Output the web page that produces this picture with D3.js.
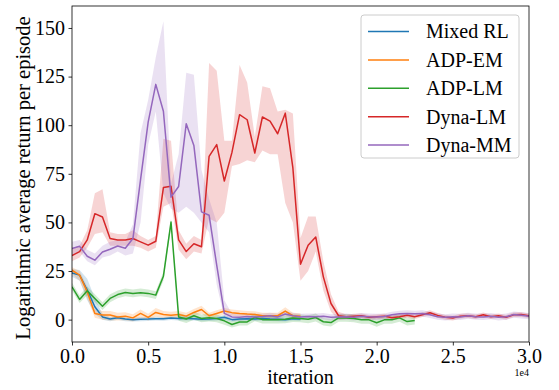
<!DOCTYPE html>
<html>
<head>
<meta charset="utf-8">
<script src="https://cdn.jsdelivr.net/npm/d3@7"></script>
<style>
    body { margin: 0; background: white; }
    text { font-family: "Liberation Serif", "Times New Roman", serif; }
</style>
</head>
<body>
<svg id="plot"></svg>
<script>
"use strict";

// iterations, one sample every 500
const iterations = [0, 500, 1000, 1500, 2000, 2500, 3000, 3500, 4000, 4500,
    5000, 5500, 6000, 6500, 7000, 7500, 8000, 8500, 9000, 9500,
    10000, 10500, 11000, 11500, 12000, 12500, 13000, 13500, 14000, 14500,
    15000, 15500, 16000, 16500, 17000, 17500, 18000, 18500, 19000, 19500,
    20000, 20500, 21000, 21500, 22000, 22500, 23000, 23500, 24000, 24500,
    25000, 25500, 26000, 26500, 27000, 27500, 28000, 28500, 29000, 29500, 30000];

const series_names = ["Mixed RL", "ADP-EM", "ADP-LM", "Dyna-LM", "Dyna-MM"];
const series_colors = ["#1f77b4", "#ff7f0e", "#2ca02c", "#d62728", "#9467bd"];

const mixed_rl_mean = [24, 22.9, 15.2, 6.6, 1.4, 0.3, 1, 0.3, 0, 0.2, 0.3, 0.5, 0.4, 0.8, 0.6, 0.6, 0.5, 0.2, 0.3, 0.6, 1.2, 0, 0.3, 0.5, 0.3, 0.6, 0.3, 0.2, 0, 0.5, 0.3];
const mixed_rl_low = [22, 20, 10, 3, 0, -0.8, 0, -0.8, -1, -0.8, -0.7, -0.5, -0.6, -0.2, -0.4, -0.4, -0.5, -0.8, -0.7, -0.4, 0, -1, -0.7, -0.5, -0.7, -0.4, -0.7, -0.8, -1, -0.5, -0.7];
const mixed_rl_high = [26, 25.5, 21, 11, 3, 1.4, 2, 1.4, 1, 1.2, 1.3, 1.5, 1.4, 1.8, 1.6, 1.6, 1.5, 1.2, 1.3, 1.6, 2.4, 1, 1.3, 1.5, 1.3, 1.6, 1.3, 1.2, 1, 1.5, 1.3];

const adp_em_mean = [25.4, 22.9, 14.3, 3.2, 2.4, 2.4, 1.4, 1.8, 0.9, 3.2, 1.2, 3.7, 2.6, 2.2, 2.6, 1.8, 3.7, 5.2, 2, 3.2, 4.4, 3.6, 3.2, 2.9, 2.7, 2, 2, 2, 4.4, 2, 1.8];
const adp_em_low = [23.5, 20, 11, 1, 0, -0.5, -0.5, -0.3, -1, 1, -0.5, 1.5, 0.8, 0.4, 0.8, 0, 1.9, 3, 0.4, 1.6, 2.8, 2, 1.6, 1.3, 1.1, 0.4, 0.4, 0.4, 2.4, 0.4, 0.3];
const adp_em_high = [27, 25, 17, 5.5, 4.5, 4.5, 3.5, 3.8, 2.8, 5.2, 3, 6, 4.4, 4, 4.4, 3.6, 5.5, 7.2, 3.6, 4.8, 6, 5.2, 4.8, 4.5, 4.3, 3.6, 3.6, 3.6, 6.4, 3.6, 3.3];

const adp_lm_mean = [16.9, 10.4, 14.8, 10.9, 6.9, 10.9, 12.9, 14, 13.5, 13.8, 13.5, 12.6, 22.3, 50.2, 1.4, 0.3, 2, 0.6, 1, 0.6, -0.6, -2.5, -1.2, -1.2, 1.2, 0, 0, 0, 0.2, 0.8, 0.6, 0.2, 1.1, -1.1, -1.5, 0.9, 0.9, 0.6, -0.1, -0.1, -1.6, -0.1, -0.1, 0.9, -1, -0.5];
const adp_lm_low = [15, 8.5, 12.5, 9, 5, 9, 11, 12, 11.5, 12, 11.5, 10.6, 20, 48, -0.6, -1.7, 0, -1.4, -1, -1.4, -2.6, -4, -3, -3, -0.8, -2, -2, -2, -1.8, -1.2, -1.4, -1.8, -0.9, -3, -3.5, -1.1, -1.1, -1.4, -2.1, -2.1, -3.6, -2.1, -2.1, -1.1, -3, -2.5];
const adp_lm_high = [19, 12.5, 17, 13, 9, 13, 15, 16, 15.5, 16, 15.5, 14.6, 24.5, 52, 3.4, 2.3, 4, 2.6, 3, 2.6, 1.4, -0.7, 0.8, 0.8, 3.2, 2, 2, 2, 2.2, 2.8, 2.6, 2.2, 3.1, 0.9, 0.5, 2.9, 2.9, 2.6, 1.9, 1.9, 0.4, 1.9, 1.9, 2.9, 1, 1.5];

const dyna_lm_mean = [33, 35, 41, 54.5, 52.8, 41.7, 41, 41, 41.7, 40, 38.3, 40.3, 67.9, 68.6, 41, 35, 39, 37.5, 84, 90, 71.3, 86, 105.4, 102.8, 85.7, 104.2, 102.1, 95.6, 106.2, 78, 28.5, 38.3, 42.5, 22, 8.3, 2, 1.5, 1.8, 2, 1.2, 1.5, 1.8, 1, 1.5, 2.2, 1.5, 2.5, 3.5, 2.2, 1.2, 0.8, 1.8, 2, 1.5, 2.5, 1.5, 2, 1.2, 2.5, 2.6, 2];
const dyna_lm_low = [30, 32, 37, 44, 45, 38, 38, 38, 38, 37, 35, 37, 58, 60, 36, 31, 35, 34, 52, 50, 55, 79, 80, 82, 81, 87, 85, 85, 60, 50, 20, 25, 35, 15, 4, 0, 0.3, 0.6, 0.8, 0, 0.3, 0.6, -0.2, 0.3, 1, 0.3, 1.3, 2.2, 1, 0, -0.4, 0.6, 0.8, 0.3, 1.3, 0.3, 0.8, 0, 1.3, 1.4, 0.8];
const dyna_lm_high = [37, 38, 46, 65, 67, 45, 44, 44, 46, 43, 41, 43, 93, 92, 46, 39, 43, 41, 132, 128, 92, 92, 131, 122, 94, 120, 119, 107, 108, 106, 42, 53, 53, 30, 13, 4, 2.7, 3, 3.2, 2.4, 2.7, 3, 2.2, 2.7, 3.4, 2.7, 3.7, 4.8, 3.4, 2.4, 2, 3, 3.2, 2.7, 3.7, 2.7, 3.2, 2.4, 3.7, 3.8, 3.2];

const dyna_mm_mean = [36.6, 37.7, 32.6, 30.6, 34.8, 36.2, 37.9, 36.7, 41.7, 72, 101.6, 121, 107.2, 63, 68.5, 100.8, 89.6, 55.4, 53.7, 28, 3.2, 1.4, 1.2, 1.6, 1.4, 1.6, 2, 1.4, 2.9, 2, 1.4, 1.6, 1.5, 1.8, 1.2, 1.4, 1.5, 1.2, 1.8, 1.5, 1.4, 1.6, 2.5, 3, 3.2, 3, 3.2, 2.5, 1.5, 1.2, 1.5, 1.4, 2, 1.5, 1.4, 1.8, 1.2, 1.5, 2.6, 2.2, 1.8];
const dyna_mm_low = [33, 35, 30, 28, 32, 33, 35, 33, 34, 50, 90, 107, 65, 57, 55, 58, 55, 50, 45, 18, 1, -0.2, -0.4, 0, -0.2, 0, 0.4, -0.2, 1.3, 0.4, -0.2, 0, -0.1, 0.2, -0.4, -0.2, -0.1, -0.4, 0.2, -0.1, -0.2, 0, 0.9, 1.4, 1.6, 1.4, 1.6, 0.9, -0.1, -0.4, -0.1, -0.2, 0.4, -0.1, -0.2, 0.2, -0.4, -0.1, 1, 0.6, 0.2];
const dyna_mm_high = [40, 41, 36, 34, 38, 40, 41, 40, 49, 96, 113, 135, 153.5, 70, 85, 127, 126, 77, 62, 50, 10, 3, 2.8, 3.2, 3, 3.2, 3.6, 3, 4.5, 3.6, 3, 3.2, 3.1, 3.4, 2.8, 3, 3.1, 2.8, 3.4, 3.1, 3, 3.2, 4.1, 4.6, 4.8, 4.6, 4.8, 4.1, 3.1, 2.8, 3.1, 3, 3.6, 3.1, 3, 3.4, 2.8, 3.1, 4.2, 3.8, 3.4];

const x_ticks = [0, 5000, 10000, 15000, 20000, 25000, 30000];
const y_ticks = [0, 25, 50, 75, 100, 125, 150];

const means = [mixed_rl_mean, adp_em_mean, adp_lm_mean, dyna_lm_mean, dyna_mm_mean];
const lows = [mixed_rl_low, adp_em_low, adp_lm_low, dyna_lm_low, dyna_mm_low];
const highs = [mixed_rl_high, adp_em_high, adp_lm_high, dyna_lm_high, dyna_mm_high];

const width = 559;
const height = 390;
const margins = {top: 6, right: 30, bottom: 48, left: 72};
const plot_width = width - margins.left - margins.right;
const plot_height = height - margins.top - margins.bottom;
const FONT = 20;

const x_scale = d3.scaleLinear().domain([0, 30000]).range([0, plot_width]);
const y_scale = d3.scaleLinear().domain([-11.5, 161.3]).range([plot_height, 0]);

const svg = d3.select("#plot")
    .attr("width", width)
    .attr("height", height);

svg.append("rect")
    .attr("width", width)
    .attr("height", height)
    .attr("fill", "white");

const plot = svg.append("g")
    .attr("transform", "translate(" + margins.left + "," + margins.top + ")");

plot.append("clipPath")
    .attr("id", "clip")
    .append("rect")
    .attr("width", plot_width)
    .attr("height", plot_height);

const build = function (k) {
    return means[k].map(function (m, i) {
        return {x: iterations[i], y: m, lo: lows[k][i], hi: highs[k][i]};
    });
};

const area = d3.area()
    .x(function (d) { return x_scale(d.x); })
    .y0(function (d) { return y_scale(d.lo); })
    .y1(function (d) { return y_scale(d.hi); });

const line = d3.line()
    .x(function (d) { return x_scale(d.x); })
    .y(function (d) { return y_scale(d.y); });

const data_layer = plot.append("g").attr("clip-path", "url(#clip)");

// The shaded bands go under all the lines
series_names.forEach(function (name, k) {
    data_layer.append("path")
        .datum(build(k))
        .attr("d", area)
        .attr("fill", series_colors[k])
        .attr("fill-opacity", 0.2)
        .attr("stroke", "none");
});

series_names.forEach(function (name, k) {
    data_layer.append("path")
        .datum(build(k))
        .attr("d", line)
        .attr("fill", "none")
        .attr("stroke", series_colors[k])
        .attr("stroke-width", 1.5)
        .attr("stroke-linejoin", "round");
});

// Axes
const x_axis = d3.axisBottom(x_scale)
    .tickValues(x_ticks)
    .tickSize(3.5)
    .tickPadding(3)
    .tickFormat(function (d) { return (d / 10000).toFixed(1); });

const y_axis = d3.axisLeft(y_scale)
    .tickValues(y_ticks)
    .tickSize(3.5)
    .tickPadding(3.5)
    .tickFormat(d3.format("d"));

const gx = plot.append("g")
    .attr("transform", "translate(0," + plot_height + ")")
    .call(x_axis);
const gy = plot.append("g").call(y_axis);

[gx, gy].forEach(function (g) {
    g.select(".domain").remove();
    g.selectAll(".tick line").attr("stroke", "#000").attr("stroke-width", 0.8);
    g.selectAll(".tick text")
        .attr("fill", "#000")
        .style("font-family", "'Liberation Serif', 'Times New Roman', serif")
        .style("font-size", FONT + "px");
});

plot.append("rect")
    .attr("width", plot_width)
    .attr("height", plot_height)
    .attr("fill", "none")
    .attr("stroke", "#000")
    .attr("stroke-width", 0.8);

// offset text of the x axis
svg.append("text")
    .attr("x", margins.left + plot_width)
    .attr("y", 376)
    .attr("text-anchor", "end")
    .style("font-size", "10px")
    .text("1e4");

svg.append("text")
    .attr("x", margins.left + plot_width / 2)
    .attr("y", 384)
    .attr("text-anchor", "middle")
    .style("font-size", FONT + "px")
    .text("iteration");

svg.append("text")
    .attr("transform", "translate(30," + (margins.top + plot_height / 2 + 4) + ") rotate(-90)")
    .attr("text-anchor", "middle")
    .style("font-size", "20.5px")
    .text("Logarithmic average return per episode");

// Legend
const legend = svg.append("g").attr("transform", "translate(361,15)");

legend.append("rect")
    .attr("width", 158)
    .attr("height", 143)
    .attr("rx", 3)
    .attr("fill", "white")
    .attr("fill-opacity", 0.8)
    .attr("stroke", "#cccccc")
    .attr("stroke-width", 1);

series_names.forEach(function (name, k) {
    const row_y = 16.5 + k * 28.4;
    legend.append("line")
        .attr("x1", 7)
        .attr("x2", 48)
        .attr("y1", row_y)
        .attr("y2", row_y)
        .attr("stroke", series_colors[k])
        .attr("stroke-width", 1.5);
    legend.append("text")
        .attr("x", 65)
        .attr("y", row_y + 6.8)
        .style("font-size", FONT + "px")
        .text(name);
});
</script>
</body>
</html>
